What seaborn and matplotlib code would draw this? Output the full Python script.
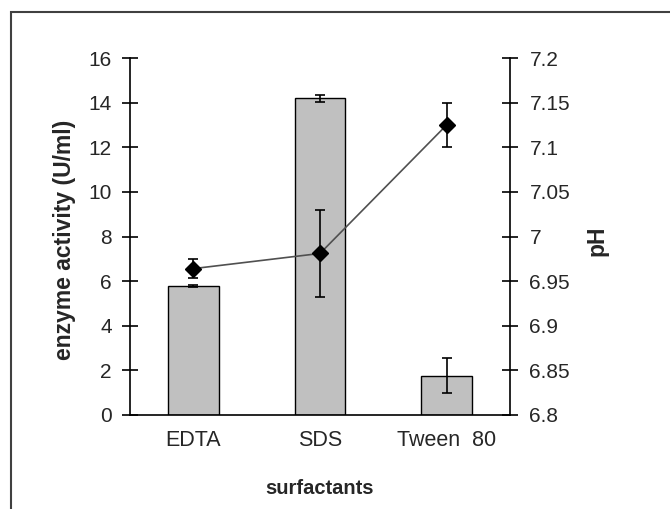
import matplotlib
matplotlib.use("Agg")
import matplotlib.pyplot as plt
import seaborn as sns
import numpy as np
import pandas as pd
from matplotlib.patches import Rectangle

categories = ["EDTA", "SDS", "Tween  80"]
activity = [5.78, 14.2, 1.76]
activity_err = [0.05, 0.15, 0.78]
ph = [6.964, 6.981, 7.125]
ph_err = [0.011, 0.049, 0.025]
left_ticks = [0, 2, 4, 6, 8, 10, 12, 14, 16]
right_ticks = [6.8, 6.85, 6.9, 6.95, 7.0, 7.05, 7.1, 7.15, 7.2]
right_labels = ["6.8", "6.85", "6.9", "6.95", "7", "7.05", "7.1", "7.15", "7.2"]

sns.set_style("white")
plt.rcParams['font.family'] = ['Liberation Sans', 'DejaVu Sans']

fig = plt.figure(figsize=(6.70, 5.09), dpi=100)
ax = fig.add_axes([130/670, 1-415/509, 380/670, 357/509])

df = pd.DataFrame({"surfactant": categories, "activity": activity})
sns.barplot(data=df, x="surfactant", y="activity", color="#c0c0c0",
            edgecolor="black", linewidth=1.0, width=0.4, saturation=1, ax=ax)
ax.errorbar(np.arange(len(categories)), activity, yerr=activity_err, fmt="none",
            ecolor="black", elinewidth=1.2, capsize=3.5, capthick=1.2, zorder=5)

ax.set_xlim(-0.5, 2.5)
ax.set_ylim(0, 16)
ax.set_yticks(left_ticks)
ax.set_yticklabels([str(t) for t in left_ticks], fontsize=15)
ax.set_xticks([-0.5, 0.5, 1.5, 2.5], minor=False)
ax.set_xticklabels([])
ax.set_xticks([0, 1, 2], minor=True)
ax.set_xticklabels(categories, minor=True, fontsize=15.5)
ax.tick_params(axis="x", which="minor", length=0, pad=11)
ax.tick_params(axis="x", which="major", direction="inout", length=12, width=1.2, color="black")
ax.tick_params(axis="y", direction="inout", length=12, width=1.2, color="black", pad=7)
for s in ["top", "right"]:
    ax.spines[s].set_visible(False)
for s in ["left", "bottom"]:
    ax.spines[s].set_color("black")
    ax.spines[s].set_linewidth(1.2)
ax.set_xlabel("surfactants", fontsize=14.5, fontweight="bold")
ax.xaxis.label.set(va="center", ha="center")
ax.xaxis.set_label_coords(0.5, (415-488)/357)
ax.set_ylabel("enzyme activity (U/ml)", fontsize=16.5, fontweight="bold")
ax.yaxis.label.set(va="center", ha="center", rotation_mode="default")
ax.yaxis.set_label_coords((64-130)/380, (415-240)/357)

ax2 = ax.twinx()
pdf = pd.DataFrame({"x": [0, 1, 2], "ph": ph})
sns.lineplot(data=pdf, x="x", y="ph", color="#505050", linewidth=1.2, ax=ax2)
ax2.errorbar([0, 1, 2], ph, yerr=ph_err, fmt="D", color="black", markersize=8,
             ecolor="black", elinewidth=1.2, capsize=3.5, capthick=1.2, zorder=6)
ax2.set_ylim(6.8, 7.2)
ax2.set_yticks(right_ticks)
ax2.set_yticklabels(right_labels, fontsize=15)
ax2.tick_params(axis="y", direction="inout", length=12, width=1.2, color="black", pad=8)
for s in ["top", "left", "bottom"]:
    ax2.spines[s].set_visible(False)
ax2.spines["right"].set_visible(True)
ax2.spines["right"].set_color("black")
ax2.spines["right"].set_linewidth(1.2)
ax2.set_xlabel("")
ax2.set_ylabel("pH", fontsize=16.5, fontweight="bold")
ax2.yaxis.label.set(va="center", ha="center", rotation_mode="default")
ax2.yaxis.set_label_coords((597-130)/380, (415-241)/357)
ax2.set_xlim(-0.5, 2.5)

fig.patches.append(Rectangle((11/670, -0.1), 1.2, 1 - 12/509 + 0.1, transform=fig.transFigure,
                             fill=False, edgecolor="#404040", linewidth=1.5, zorder=0))

fig.savefig("out.png", dpi=100)
